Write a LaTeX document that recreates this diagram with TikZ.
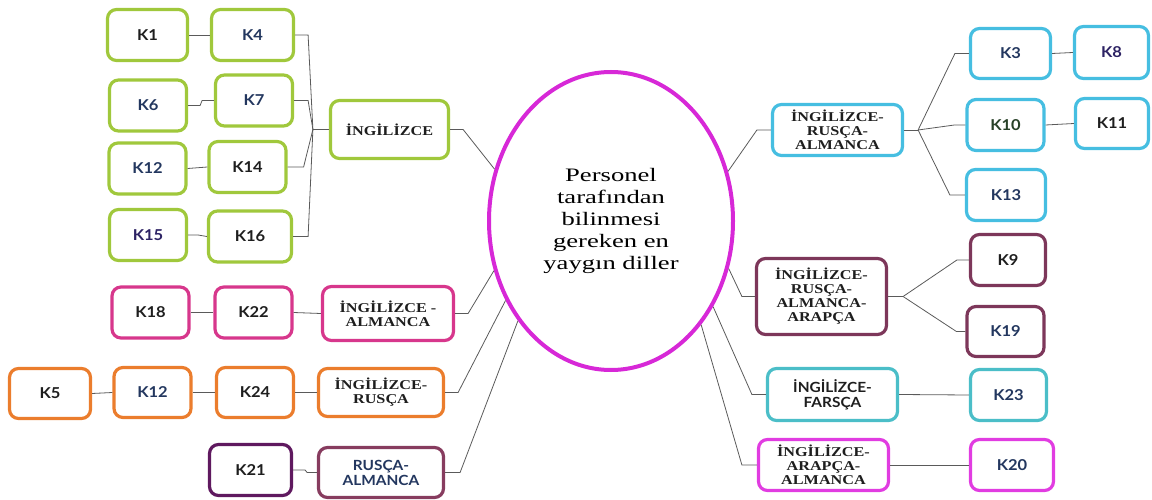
\documentclass[tikz,border=0pt]{standalone}
\usepackage{fontspec}
\usepackage{xcolor}
\usetikzlibrary{shapes.geometric}
\newfontfamily\kfont[FakeStretch=1.1]{Lato}
\newfontfamily\langfont[FakeStretch=1.2]{Liberation Serif}
\newfontfamily\hubfont[FakeStretch=1.4]{Liberation Serif}
\definecolor{kgreen}{RGB}{160,200,60}
\definecolor{kpink}{RGB}{215,55,140}
\definecolor{korange}{RGB}{235,125,45}
\definecolor{kplum}{RGB}{95,25,95}
\definecolor{kmauve}{RGB}{135,60,95}
\definecolor{kcyan}{RGB}{70,190,225}
\definecolor{kmaroon}{RGB}{125,55,90}
\definecolor{kteal}{RGB}{75,190,200}
\definecolor{kmagenta}{RGB}{225,60,225}
\definecolor{hubmagenta}{RGB}{215,40,215}
\definecolor{knavy}{RGB}{35,55,95}
\definecolor{kindigo}{RGB}{45,35,100}
\definecolor{kforest}{RGB}{40,65,40}
\definecolor{kblack}{RGB}{30,30,30}
\definecolor{linkgray}{RGB}{90,90,90}

\begin{document}
\begin{tikzpicture}[
    x=1pt, y=-1pt,
    box/.style={rectangle, draw, line width=3.2pt, rounded corners=9pt, inner sep=0pt, align=center, fill=white, text=kblack},
    kbox/.style={box, minimum width=77pt, minimum height=51pt, font=\kfont\bfseries\fontsize{15}{16}\selectfont},
    langbox/.style={box, minimum width=130pt, minimum height=51pt, font=\langfont\bfseries\fontsize{13.5}{14}\selectfont},
    sanslang/.style={langbox, font=\kfont\bfseries\fontsize{14}{15}\selectfont},
    link/.style={draw=linkgray, line width=0.8pt}
]
    \useasboundingbox (0,0) rectangle (1152,500);

    % centre
    \node[ellipse, draw=hubmagenta, line width=4pt, minimum width=244pt, minimum height=298pt, align=center,
          font=\hubfont\fontsize{19}{22}\selectfont] (hub) at (611,221)
          {Personel\\tarafından\\bilinmesi\\gereken en\\yaygın diller};

    % left, English
    \node[langbox, draw=kgreen, minimum width=118pt, minimum height=58pt] (ing) at (389.5,129.5) {İNGİLİZCE};
    \node[kbox, draw=kgreen, minimum width=80pt] (k1) at (147.5,35) {K1};
    \node[kbox, draw=kgreen, minimum width=82pt, text=knavy] (k4) at (252.5,35) {K4};
    \node[kbox, draw=kgreen, text=knavy] (k6) at (148,105.5) {K6};
    \node[kbox, draw=kgreen, text=knavy] (k7) at (254,100.5) {K7};
    \node[kbox, draw=kgreen, text=knavy] (k12a) at (147.5,168.5) {K12};
    \node[kbox, draw=kgreen] (k14) at (247.5,167) {K14};
    \node[kbox, draw=kgreen, text=kindigo] (k15) at (148,235) {K15};
    \node[kbox, draw=kgreen, minimum width=83pt] (k16) at (250,236.5) {K16};

    % left, lower rows
    \node[langbox, draw=kpink, minimum width=131pt, minimum height=54pt] (ingalm) at (388,313.5) {İNGİLİZCE -\\ALMANCA};
    \node[kbox, draw=kpink] (k18) at (150.5,312.5) {K18};
    \node[kbox, draw=kpink] (k22) at (253.5,312.5) {K22};

    \node[langbox, draw=korange, minimum width=125pt, minimum height=48pt] (ingrus) at (381,392.5) {İNGİLİZCE-\\RUSÇA};
    \node[kbox, draw=korange, minimum width=81pt, minimum height=50pt] (k5) at (50,393.5) {K5};
    \node[kbox, draw=korange, minimum height=50pt, text=knavy] (k12b) at (152.5,392.5) {K12};
    \node[kbox, draw=korange, minimum height=50pt] (k24) at (255,392.5) {K24};

    \node[sanslang, draw=kmauve, minimum width=125pt, minimum height=50pt, text=knavy] (rusalm) at (381,472.5) {RUSÇA-\\ALMANCA};
    \node[kbox, draw=kplum, minimum width=82pt] (k21) at (250.5,470) {K21};

    % right
    \node[langbox, draw=kcyan] (ingrusalm) at (837.5,130) {İNGİLİZCE-\\RUSÇA-\\ALMANCA};
    \node[kbox, draw=kcyan, minimum width=80pt, minimum height=50pt, text=knavy] (k3) at (1010.5,53.5) {K3};
    \node[kbox, draw=kcyan, minimum width=74pt, minimum height=52pt, text=kindigo] (k8) at (1111.5,52.5) {K8};
    \node[kbox, draw=kcyan, text=kforest] (k10) at (1005.5,125) {K10};
    \node[kbox, draw=kcyan, minimum width=73pt, minimum height=50pt] (k11) at (1112,123.5) {K11};
    \node[kbox, draw=kcyan, minimum width=79pt, text=knavy] (k13) at (1006,195) {K13};

    \node[langbox, draw=kmaroon, minimum height=76pt] (ing4) at (821.5,296.5) {İNGİLİZCE-\\RUSÇA-\\ALMANCA-\\ARAPÇA};
    \node[kbox, draw=kmaroon, minimum width=75pt] (k9) at (1008,260) {K9};
    \node[kbox, draw=kmaroon, minimum height=50pt, text=knavy] (k19) at (1005.5,331.5) {K19};

    \node[sanslang, draw=kteal, minimum height=52pt] (ingfar) at (832.5,394.5) {İNGİLİZCE-\\FARSÇA};
    \node[kbox, draw=kteal, minimum width=76pt, text=knavy] (k23) at (1008.5,395) {K23};

    \node[langbox, draw=kmagenta] (ingara) at (823.5,465) {İNGİLİZCE-\\ARAPÇA-\\ALMANCA};
    \node[kbox, draw=kmagenta, minimum width=83pt, text=knavy] (k20) at (1012,465) {K20};

    % links to the centre
    \draw[link] (ing.east) -- ++(13,0) -- (hub.156.6);
    \draw[link] (ingalm.east) -- ++(13,0) -- (hub.203.7);
    \draw[link] (ingrus.east) -- ++(13,0) -- (hub.217.7);
    \draw[link] (rusalm.east) -- ++(15,0) -- (hub.227.6);
    \draw[link] (ingrusalm.west) -- ++(-14,0) -- (hub.23.7);
    \draw[link] (ing4.west) -- ++(-13,0) -- (hub.338.5);
    \draw[link] (ingfar.west) -- ++(-14,0) -- (hub.320.5);
    \draw[link] (ingara.west) -- ++(-15,0) -- (hub.311);

    % English branch
    \coordinate (ingJ) at ([xshift=-16pt]ing.west);
    \draw[link] (ing.west) -- (ingJ);
    \draw[link] (ingJ) -- ([xshift=13pt]k4.east) -- (k4.east);
    \draw[link] (ingJ) -- ([xshift=14pt]k7.east) -- (k7.east);
    \draw[link] (ingJ) -- ([xshift=16pt]k14.east) -- (k14.east);
    \draw[link] (ingJ) -- ([xshift=15pt]k16.east) -- (k16.east);
    \draw[link] (k1.east) -- (k4.west);
    \draw[link] (k6.east) -- ++(12,0) -- ++(2,-5) -- (k7.west);
    \draw[link] (k12a.east) -- (k14.west);
    \draw[link] (k15.east) -- ++(10,0) -- (k16.west);

    % lower chains
    \draw[link] (k18.east) -- (k22.west);
    \draw[link] (k22.east) -- (ingalm.west);
    \draw[link] (k5.east) -- (k12b.west);
    \draw[link] (k12b.east) -- (k24.west);
    \draw[link] (k24.east) -- (ingrus.west);
    \draw[link] (k21.east) -- ++(12,0) -- ++(2,2.5) -- (rusalm.west);

    % right branches
    \coordinate (rraJ) at ([xshift=14pt]ingrusalm.east);
    \draw[link] (ingrusalm.east) -- (rraJ);
    \draw[link] (rraJ) -- ([xshift=-14pt]k3.west) -- (k3.west);
    \draw[link] (rraJ) -- ([xshift=-11pt]k10.west) -- (k10.west);
    \draw[link] (rraJ) -- ([xshift=-15pt]k13.west) -- (k13.west);
    \draw[link] (k3.east) -- (k8.west);
    \draw[link] (k10.east) -- (k11.west);

    \coordinate (ing4J) at ([xshift=15pt]ing4.east);
    \draw[link] (ing4.east) -- (ing4J);
    \draw[link] (ing4J) -- ([xshift=-12pt]k9.west) -- (k9.west);
    \draw[link] (ing4J) -- ([xshift=-9pt]k19.west) -- (k19.west);

    \draw[link] (ingfar.east) -- (k23.west);
    \draw[link] (ingara.east) -- (k20.west);
\end{tikzpicture}
\end{document}
